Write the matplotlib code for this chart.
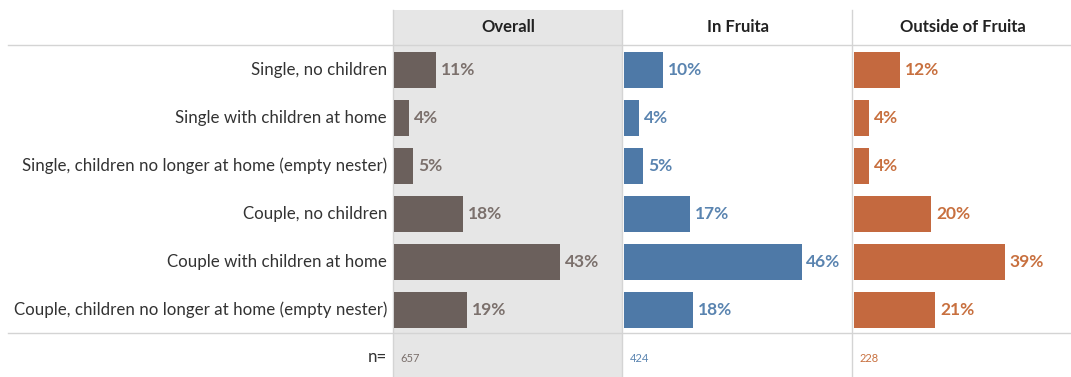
import matplotlib.pyplot as plt
from matplotlib.patches import Rectangle
from matplotlib.lines import Line2D

plt.rcParams['font.family'] = ['Lato', 'DejaVu Sans']

categories = [
    "Single, no children",
    "Single with children at home",
    "Single, children no longer at home (empty nester)",
    "Couple, no children",
    "Couple with children at home",
    "Couple, children no longer at home (empty nester)",
]
groups = ["Overall", "In Fruita", "Outside of Fruita"]
overall = [11, 4, 5, 18, 43, 19]
in_fruita = [10, 4, 5, 17, 46, 18]
outside = [12, 4, 4, 20, 39, 21]
n_counts = [657, 424, 228]

series = [overall, in_fruita, outside]
bar_colors = ["#6b605c", "#4e79a7", "#c4693f"]
label_colors = ["#7b706c", "#5a84b0", "#c8703f"]

W, H = 1071, 377
fig = plt.figure(figsize=(W / 100, H / 100), dpi=100)

def fx(px):
    return px / W

def fy(py):
    return 1 - py / H

# panel geometry in pixels
panel_left = [394, 624, 854]
panel_right = [622, 852, 1071]
top_px, bot_px = 46, 334
px_per_pct = 3.86

# grey background behind the Overall column
fig.patches.append(Rectangle((fx(393), 0), fx(622 - 393), fy(10), transform=fig.transFigure,
                             facecolor="#e6e6e6", edgecolor="none", zorder=-2))

for i, (vals, col, lcol) in enumerate(zip(series, bar_colors, label_colors)):
    l, r = panel_left[i], panel_right[i]
    ax = fig.add_axes([fx(l), fy(bot_px), fx(r - l), (bot_px - top_px) / H])
    ax.set_zorder(2)
    ax.patch.set_alpha(0)
    ax.barh(range(len(categories)), vals, height=0.74, color=col, zorder=2)
    ax.set_xlim(0, (r - l) / px_per_pct)
    ax.set_ylim(len(categories) - 0.5, -0.5)
    for j, v in enumerate(vals):
        ax.annotate(f"{v}%", (v, j), xytext=(3.5, 0), textcoords="offset points",
                    va="center", ha="left", fontsize=12.5, fontweight="bold", color=lcol)
    ax.axis("off")
    fig.text(fx((l + r) / 2), fy(27), groups[i], ha="center", va="center",
             fontsize=12, fontweight="bold", color="#222222")
    fig.text(fx(l + 6), fy(358), str(n_counts[i]), ha="left", va="center",
             fontsize=8, color=lcol)

# row labels
row_h = (bot_px - top_px) / len(categories)
for j, cat in enumerate(categories):
    fig.text(fx(387), fy(top_px + row_h * (j + 0.5)), cat, ha="right", va="center",
             fontsize=12.2, color="#333333")
fig.text(fx(387), fy(357), "n=", ha="right", va="center", fontsize=12.2, color="#333333")

# grid lines
line_col = "#d4d4d4"
for y in (45, 333):
    fig.lines.append(Line2D([fx(8), 1], [fy(y), fy(y)], transform=fig.transFigure,
                            color=line_col, lw=1, zorder=-1))
for x in (393, 622, 852):
    fig.lines.append(Line2D([fx(x), fx(x)], [0, fy(10)], transform=fig.transFigure,
                            color=line_col, lw=1, zorder=-1))

fig.savefig("out.png", dpi=100)
